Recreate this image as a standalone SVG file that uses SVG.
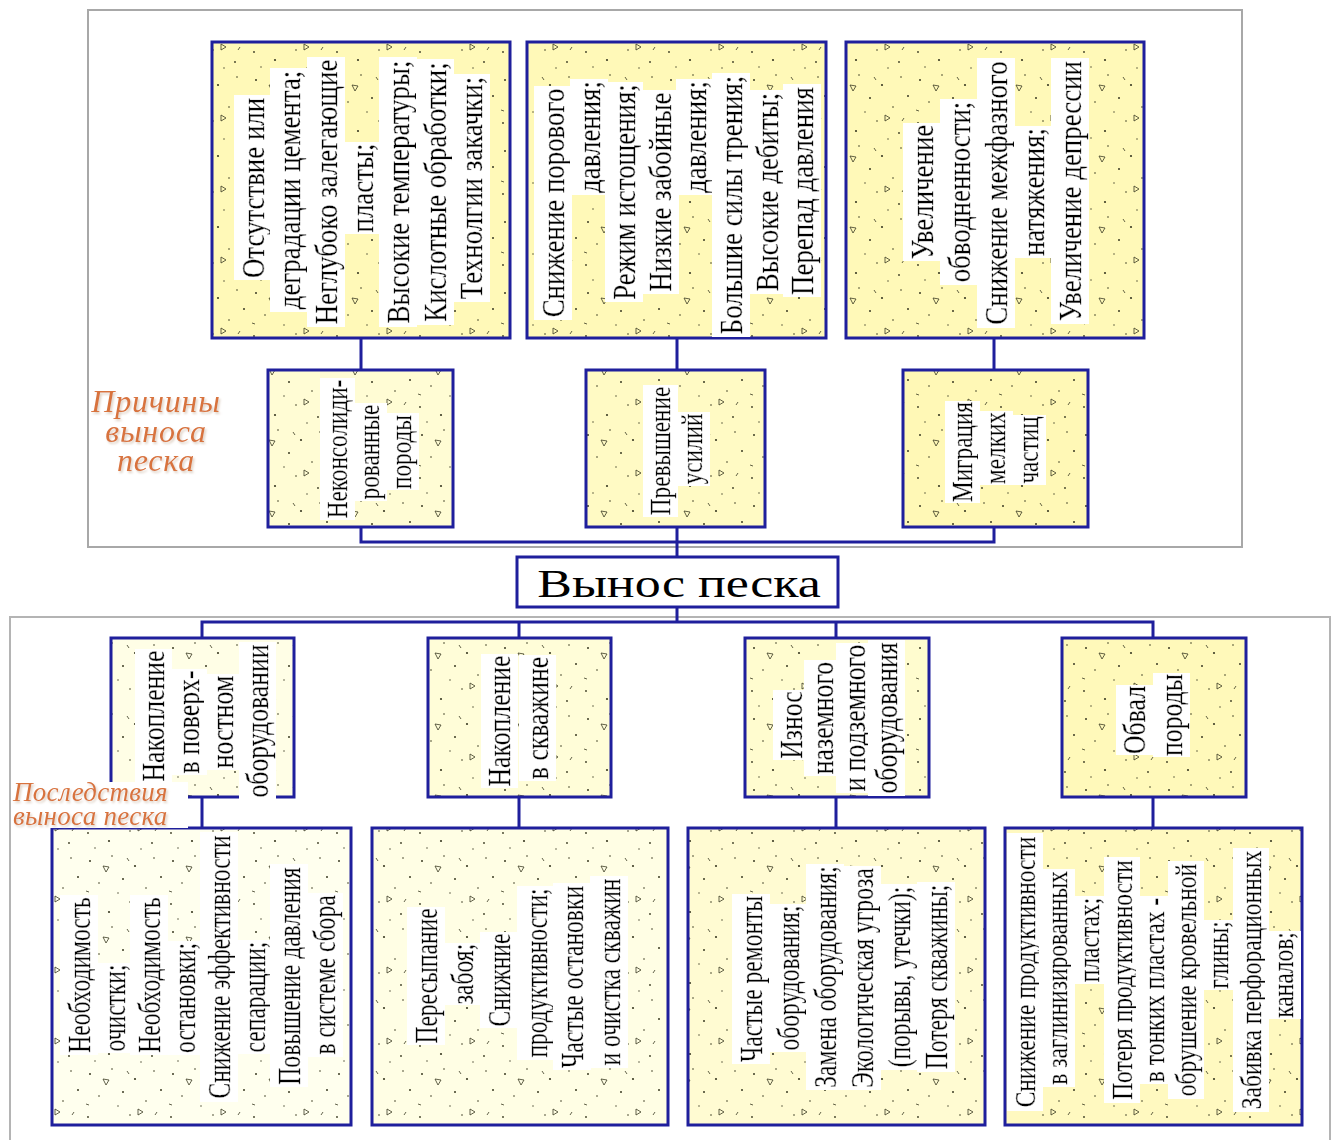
<svg xmlns="http://www.w3.org/2000/svg" width="1335" height="1140" viewBox="0 0 1335 1140">
<defs>
<pattern id="sand" width="83" height="71" patternUnits="userSpaceOnUse">
<g fill="#3a3a22">
<circle cx="7" cy="9" r="1"/><circle cx="29" cy="4" r="0.8"/><circle cx="52" cy="14" r="1.1"/><circle cx="71" cy="6" r="0.8"/>
<circle cx="16" cy="31" r="0.8"/><circle cx="40" cy="27" r="1"/><circle cx="63" cy="36" r="0.8"/><circle cx="78" cy="25" r="1"/>
<circle cx="5" cy="52" r="0.9"/><circle cx="26" cy="60" r="1.1"/><circle cx="47" cy="50" r="0.8"/><circle cx="69" cy="62" r="0.9"/>
<circle cx="35" cy="41" r="0.7"/><circle cx="58" cy="68" r="0.7"/><circle cx="12" cy="67" r="0.7"/>
</g>
<g fill="none" stroke="#3a3a22" stroke-width="0.8">
<path d="M20 14l6 1-3 5z"/><path d="M55 44l5 3-5 3z"/>
<path d="M44 6l2 3M74 47l-2 3M3 39l3 1"/>
</g>
</pattern>
<filter id="hl" x="-0.01" y="-0.03" width="1.02" height="1.06">
<feFlood flood-color="#ffffff"/>
<feComposite in="SourceGraphic"/>
</filter>
<filter id="sh" x="-0.1" y="-0.2" width="1.3" height="1.5">
<feDropShadow dx="1.5" dy="2" stdDeviation="1.2" flood-color="#d9cabb" flood-opacity="0.9"/>
</filter>
</defs>
<style>
.fr{fill:none;stroke:#a8a8a8;stroke-width:2}
.bx{stroke:none}
.sd{fill:url(#sand);stroke:#1f1f9c;stroke-width:3}
.cn{fill:none;stroke:#1f1f9c;stroke-width:3}
text{font-family:"Liberation Serif","Times New Roman",serif;fill:#000}
.v{text-anchor:middle;filter:url(#hl);stroke:#000;stroke-width:0.35}
.tT{font-size:32px}
.tM{font-size:29px}
.tB{font-size:31px}
.tL{font-size:31px}
.tL4{font-size:29px}
.lab{filter:url(#sh)}
.lab text{font-style:italic;fill:#d8733e}
</style>
<rect width="1335" height="1140" fill="#ffffff"/>
<g id="frames">
<rect class="fr" x="88" y="10" width="1154" height="537"/>
<path d="M10 1140V617H1330V1140" fill="none" stroke="#b4b4b4" stroke-width="2"/>
</g>
<g id="connectors">
<path class="cn" d="M361 338V370M677 338V370M994 338V370"/>
<path class="cn" d="M361 527V542H994V527M677 527V557"/>
<path class="cn" d="M677 607V622M202 638V622H1153V638M519 622V638M836 622V638"/>
<path class="cn" d="M202 797V828M519 797V828M836 797V828M1153 797V828"/>
</g>
<g id="label-causes" class="lab">
<text x="156" y="412" font-size="32" letter-spacing="0.8" text-anchor="middle">Причины</text>
<text x="156" y="442" font-size="32" letter-spacing="0.8" text-anchor="middle">выноса</text>
<text x="156" y="471" font-size="32" letter-spacing="0.8" text-anchor="middle">песка</text>
</g>
<g id="t1">
<rect class="bx" x="212" y="42" width="298" height="296" fill="#fff9b8"/>
<rect class="sd" x="212" y="42" width="298" height="296"/>
<g class="tT">
<text class="v" y="10.5" transform="translate(253,188) rotate(-90) scale(0.84,1)">Отсутствие или</text>
<text class="v" y="10.5" transform="translate(289,190) rotate(-90) scale(0.84,1)">деградации цемента;</text>
<text class="v" y="10.5" transform="translate(326,192) rotate(-90) scale(0.84,1)">Неглубоко залегающие</text>
<text class="v" y="10.5" transform="translate(362,188) rotate(-90) scale(0.84,1)">пласты;</text>
<text class="v" y="10.5" transform="translate(398,192) rotate(-90) scale(0.84,1)">Высокие температуры;</text>
<text class="v" y="10.5" transform="translate(435,192) rotate(-90) scale(0.84,1)">Кислотные обработки;</text>
<text class="v" y="10.5" transform="translate(471,188) rotate(-90) scale(0.84,1)">Технолгии закачки;</text>
</g>
</g>
<g id="t2">
<rect class="bx" x="527" y="42" width="299" height="296" fill="#fff9b8"/>
<rect class="sd" x="527" y="42" width="299" height="296"/>
<g class="tT">
<text class="v" y="10.5" transform="translate(553,203) rotate(-90) scale(0.84,1)">Снижение порового</text>
<text class="v" y="10.5" transform="translate(589,137) rotate(-90) scale(0.84,1)">давления;</text>
<text class="v" y="10.5" transform="translate(624,192) rotate(-90) scale(0.84,1)">Режим истощения;</text>
<text class="v" y="10.5" transform="translate(660,192) rotate(-90) scale(0.84,1)">Низкие забойные</text>
<text class="v" y="10.5" transform="translate(695,137) rotate(-90) scale(0.84,1)">давления;</text>
<text class="v" y="10.5" transform="translate(731,205) rotate(-90) scale(0.84,1)">Большие силы трения;</text>
<text class="v" y="10.5" transform="translate(767,192) rotate(-90) scale(0.84,1)">Высокие дебиты;</text>
<text class="v" y="10.5" transform="translate(802,191) rotate(-90) scale(0.84,1)">Перепад давления</text>
</g>
</g>
<g id="t3">
<rect class="bx" x="846" y="42" width="298" height="296" fill="#fff9b8"/>
<rect class="sd" x="846" y="42" width="298" height="296"/>
<g class="tT">
<text class="v" y="10.5" transform="translate(922,192) rotate(-90) scale(0.84,1)">Увеличение</text>
<text class="v" y="10.5" transform="translate(959,192) rotate(-90) scale(0.84,1)">обводненности;</text>
<text class="v" y="10.5" transform="translate(996,193) rotate(-90) scale(0.84,1)">Снижение межфазного</text>
<text class="v" y="10.5" transform="translate(1033,192) rotate(-90) scale(0.84,1)">натяжения;</text>
<text class="v" y="10.5" transform="translate(1070,191) rotate(-90) scale(0.84,1)">Увеличение депрессии</text>
</g>
</g>
<g id="m1">
<rect class="bx" x="268" y="370" width="185" height="157" fill="#fffcd4"/>
<rect class="sd" x="268" y="370" width="185" height="157"/>
<g class="tM">
<text class="v" y="9.5" transform="translate(337,449) rotate(-90) scale(0.8,1)">Неконсолиди-</text>
<text class="v" y="9.5" transform="translate(369,452) rotate(-90) scale(0.8,1)">рованные</text>
<text class="v" y="9.5" transform="translate(401,452) rotate(-90) scale(0.8,1)">породы</text>
</g>
</g>
<g id="m2">
<rect class="bx" x="586" y="370" width="179" height="157" fill="#fffac4"/>
<rect class="sd" x="586" y="370" width="179" height="157"/>
<g class="tM">
<text class="v" y="9.5" transform="translate(660,451) rotate(-90) scale(0.8,1)">Превышение</text>
<text class="v" y="9.5" transform="translate(692,449) rotate(-90) scale(0.8,1)">усилий</text>
</g>
</g>
<g id="m3">
<rect class="bx" x="903" y="370" width="185" height="157" fill="#fff8b6"/>
<rect class="sd" x="903" y="370" width="185" height="157"/>
<g class="tM">
<text class="v" y="9.5" transform="translate(962,452) rotate(-90) scale(0.8,1)">Миграция</text>
<text class="v" y="9.5" transform="translate(995,448) rotate(-90) scale(0.8,1)">мелких</text>
<text class="v" y="9.5" transform="translate(1028,450) rotate(-90) scale(0.8,1)">частиц</text>
</g>
</g>
<g id="main">
<rect x="517" y="557" width="321" height="50" fill="#ffffff" stroke="#1f1f9c" stroke-width="3"/>
<text transform="translate(679,597) scale(1.3,1)" text-anchor="middle" font-size="40">Вынос песка</text>
</g>
<g id="b1">
<rect class="bx" x="111" y="638" width="183" height="159" fill="#fffee6"/>
<rect class="sd" x="111" y="638" width="183" height="159"/>
<g class="tB">
<text class="v" y="10" transform="translate(154,716) rotate(-90) scale(0.83,1)">Накопление</text>
<text class="v" y="10" transform="translate(189,722) rotate(-90) scale(0.83,1)">в поверх-</text>
<text class="v" y="10" transform="translate(223,722) rotate(-90) scale(0.83,1)">ностном</text>
<text class="v" y="10" transform="translate(258,721) rotate(-90) scale(0.83,1)">оборудовании</text>
</g>
</g>
<g id="b2">
<rect class="bx" x="428" y="638" width="183" height="159" fill="#fffdd8"/>
<rect class="sd" x="428" y="638" width="183" height="159"/>
<g class="tB">
<text class="v" y="10" transform="translate(500,721) rotate(-90) scale(0.83,1)">Накопление</text>
<text class="v" y="10" transform="translate(538,718) rotate(-90) scale(0.83,1)">в скважине</text>
</g>
</g>
<g id="b3">
<rect class="bx" x="745" y="638" width="184" height="159" fill="#fffccf"/>
<rect class="sd" x="745" y="638" width="184" height="159"/>
<g class="tB">
<text class="v" y="10" transform="translate(792,725) rotate(-90) scale(0.83,1)">Износ</text>
<text class="v" y="10" transform="translate(823,718) rotate(-90) scale(0.83,1)">наземного</text>
<text class="v" y="10" transform="translate(855,718) rotate(-90) scale(0.83,1)">и подземного</text>
<text class="v" y="10" transform="translate(887,718) rotate(-90) scale(0.83,1)">оборудования</text>
</g>
</g>
<g id="b4">
<rect class="bx" x="1062" y="638" width="184" height="159" fill="#fff9ba"/>
<rect class="sd" x="1062" y="638" width="184" height="159"/>
<g class="tB">
<text class="v" y="10" transform="translate(1135,720) rotate(-90) scale(0.83,1)">Обвал</text>
<text class="v" y="10" transform="translate(1172,715) rotate(-90) scale(0.83,1)">породы</text>
</g>
</g>
<g id="l1">
<rect class="bx" x="52" y="828" width="299" height="297" fill="#ffffee"/>
<rect class="sd" x="52" y="828" width="299" height="297"/>
<g class="tL">
<text class="v" y="10" transform="translate(80,975) rotate(-90) scale(0.76,1)">Необходимость</text>
<text class="v" y="10" transform="translate(115,1008) rotate(-90) scale(0.76,1)">очистки;</text>
<text class="v" y="10" transform="translate(150,975) rotate(-90) scale(0.76,1)">Необходимость</text>
<text class="v" y="10" transform="translate(185,998) rotate(-90) scale(0.76,1)">остановки;</text>
<text class="v" y="10" transform="translate(220,967) rotate(-90) scale(0.76,1)">Снижение эффективности</text>
<text class="v" y="10" transform="translate(255,997) rotate(-90) scale(0.76,1)">сепарации;</text>
<text class="v" y="10" transform="translate(290,976) rotate(-90) scale(0.76,1)">Повышение давления</text>
<text class="v" y="10" transform="translate(325,975) rotate(-90) scale(0.76,1)">в системе сбора</text>
</g>
</g>
<g id="l2">
<rect class="bx" x="372" y="828" width="296" height="297" fill="#fffee4"/>
<rect class="sd" x="372" y="828" width="296" height="297"/>
<g class="tL">
<text class="v" y="10" transform="translate(427,976) rotate(-90) scale(0.76,1)">Пересыпание</text>
<text class="v" y="10" transform="translate(463,974) rotate(-90) scale(0.76,1)">забоя;</text>
<text class="v" y="10" transform="translate(500,980) rotate(-90) scale(0.76,1)">Снижние</text>
<text class="v" y="10" transform="translate(537,973) rotate(-90) scale(0.76,1)">продуктивности;</text>
<text class="v" y="10" transform="translate(573,977) rotate(-90) scale(0.76,1)">Частые остановки</text>
<text class="v" y="10" transform="translate(610,972) rotate(-90) scale(0.76,1)">и очистка скважин</text>
</g>
</g>
<g id="l3">
<rect class="bx" x="688" y="828" width="297" height="297" fill="#fffbd2"/>
<rect class="sd" x="688" y="828" width="297" height="297"/>
<g class="tL">
<text class="v" y="10" transform="translate(752,979) rotate(-90) scale(0.76,1)">Частые ремонты</text>
<text class="v" y="10" transform="translate(789,978) rotate(-90) scale(0.76,1)">оборудования;</text>
<text class="v" y="10" transform="translate(826,977) rotate(-90) scale(0.76,1)">Замена оборудования;</text>
<text class="v" y="10" transform="translate(863,978) rotate(-90) scale(0.76,1)">Экологическая угроза</text>
<text class="v" y="10" transform="translate(900,977) rotate(-90) scale(0.76,1)">(порывы, утечки);</text>
<text class="v" y="10" transform="translate(937,977) rotate(-90) scale(0.76,1)">Потеря скважины;</text>
</g>
</g>
<g id="l4">
<rect class="bx" x="1005" y="828" width="297" height="297" fill="#fff9c0"/>
<rect class="sd" x="1005" y="828" width="297" height="297"/>
<g class="tL4">
<text class="v" y="9.5" transform="translate(1025,972) rotate(-90) scale(0.81,1)">Снижение продуктивности</text>
<text class="v" y="9.5" transform="translate(1057,978) rotate(-90) scale(0.81,1)">в заглинизированных</text>
<text class="v" y="9.5" transform="translate(1089,940) rotate(-90) scale(0.81,1)">пластах;</text>
<text class="v" y="9.5" transform="translate(1122,980) rotate(-90) scale(0.81,1)">Потеря продуктивности</text>
<text class="v" y="9.5" transform="translate(1154,990) rotate(-90) scale(0.81,1)">в тонких пластах -</text>
<text class="v" y="9.5" transform="translate(1186,980) rotate(-90) scale(0.81,1)">обрушение кровельной</text>
<text class="v" y="9.5" transform="translate(1218,955) rotate(-90) scale(0.81,1)">глины;</text>
<text class="v" y="9.5" transform="translate(1251,980) rotate(-90) scale(0.81,1)">Забивка перфорационных</text>
<text class="v" y="9.5" transform="translate(1283,975) rotate(-90) scale(0.81,1)">каналов;</text>
</g>
</g>
<g id="label-effects">
<rect x="12" y="782" width="176" height="46" fill="#ffffff"/>
<g class="lab">
<text x="13" y="801" font-size="27" letter-spacing="0.3">Последствия</text>
<text x="13" y="825" font-size="27" letter-spacing="0.3">выноса песка</text>
</g>
</g>
</svg>
